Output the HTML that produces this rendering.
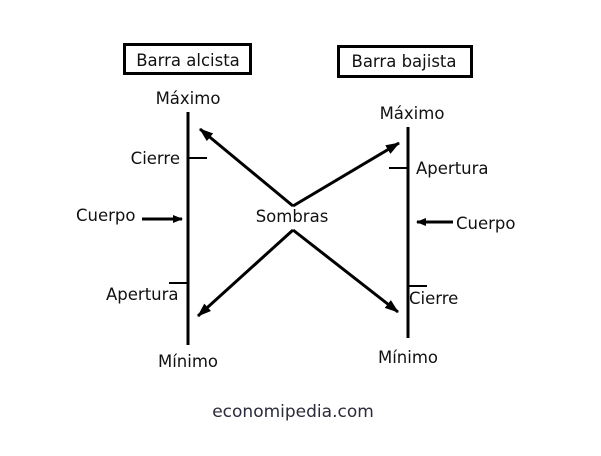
<!DOCTYPE html>
<html><head><meta charset="utf-8"><style>html,body{margin:0;padding:0;background:#fff}</style></head>
<body>
<svg width="601" height="451" viewBox="0 0 601 451" xmlns="http://www.w3.org/2000/svg" font-family="'DejaVu Sans','Liberation Sans',sans-serif" font-size="16.5" fill="#111">
<defs><marker id="a" markerWidth="10" markerHeight="8" refX="9" refY="4" orient="auto" markerUnits="userSpaceOnUse"><path d="M0,0 L10,4 L0,8 Z" fill="#000"/></marker>
<marker id="b" markerWidth="14" markerHeight="10" refX="13" refY="5" orient="auto" markerUnits="userSpaceOnUse"><path d="M0,0 L14,5 L0,10 Z" fill="#000"/></marker></defs>
<rect x="124.5" y="44.5" width="126" height="29" fill="none" stroke="#000" stroke-width="3"/>
<rect x="338.5" y="46.5" width="133" height="30" fill="none" stroke="#000" stroke-width="3"/>
<text x="188" y="66" text-anchor="middle">Barra alcista</text>
<text x="404" y="67" text-anchor="middle">Barra bajista</text>
<g stroke="#000" stroke-width="3" fill="none">
<line x1="188" y1="112" x2="188" y2="345"/>
<line x1="408" y1="127" x2="408" y2="338"/>
</g>
<g stroke="#000" stroke-width="2">
<line x1="188" y1="158" x2="207" y2="158"/>
<line x1="169" y1="283" x2="188" y2="283"/>
<line x1="389" y1="168" x2="408" y2="168"/>
<line x1="408" y1="286" x2="427" y2="286"/>
</g>
<g stroke="#000" stroke-width="3" fill="none">
<line x1="142" y1="219" x2="182" y2="219" marker-end="url(#a)"/>
<line x1="453" y1="222" x2="417" y2="222" marker-end="url(#a)"/>
<line x1="293" y1="206" x2="200" y2="129" marker-end="url(#b)"/>
<line x1="293" y1="206" x2="399" y2="143" marker-end="url(#b)"/>
<line x1="293" y1="230" x2="198" y2="316" marker-end="url(#b)"/>
<line x1="293" y1="230" x2="398" y2="312" marker-end="url(#b)"/>
</g>
<text x="188" y="104" text-anchor="middle">Máximo</text>
<text x="412" y="119" text-anchor="middle">Máximo</text>
<text x="188" y="367" text-anchor="middle">Mínimo</text>
<text x="408" y="363" text-anchor="middle">Mínimo</text>
<text x="292" y="222" text-anchor="middle">Sombras</text>
<text x="180" y="164" text-anchor="end">Cierre</text>
<text x="106" y="300">Apertura</text>
<text x="76" y="221">Cuerpo</text>
<text x="416" y="174">Apertura</text>
<text x="456" y="229">Cuerpo</text>
<text x="409" y="304">Cierre</text>
<text x="293" y="417" text-anchor="middle" font-size="17" fill="#2a2a3a">economipedia.com</text>
</svg>
</body></html>
